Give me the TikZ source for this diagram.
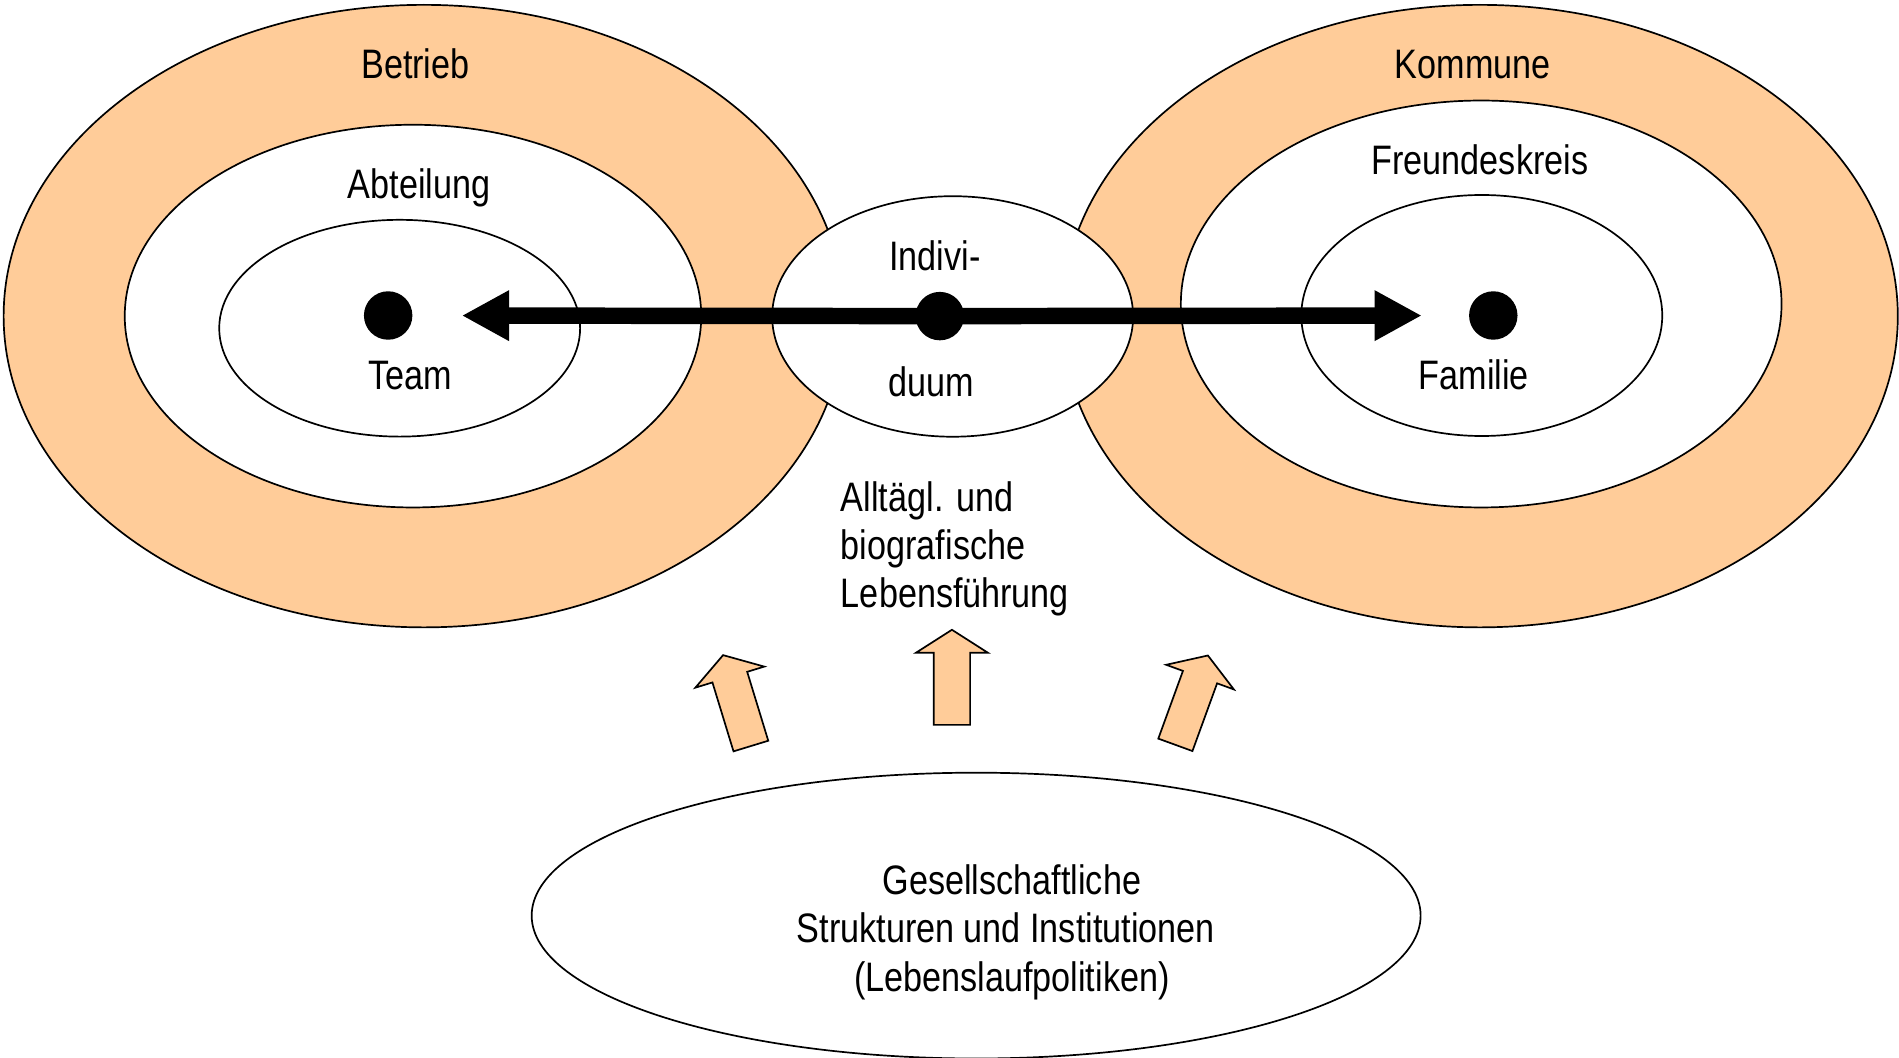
\documentclass[tikz,border=0pt]{standalone}
\usepackage{fontspec}
\setmainfont[FakeStretch=0.83]{Liberation Sans}
\usetikzlibrary{shapes.geometric,arrows.meta}
\definecolor{orangefill}{HTML}{FFCC99}
\begin{document}
\begin{tikzpicture}[x=0.5pt,y=-0.5pt,
  ring/.style={ellipse,draw=black,line width=0.7pt,inner sep=0pt,fill=#1},
  ring/.default=white,
  lbl/.style={anchor=base,inner sep=0pt,font=\fontsize{17pt}{20pt}\selectfont},
  lbll/.style={anchor=base west,inner sep=0pt,font=\fontsize{17pt}{20pt}\selectfont},
  dotnode/.style={circle,fill=black,inner sep=0pt,minimum size=20pt},
  bigline/.style={line width=6.8pt,-{Triangle[length=19.5pt,width=19.5pt]}},
  blockarrow/.style={draw=black,line width=0.7pt,fill=orangefill,line join=miter}]
\useasboundingbox (0,0) rectangle (1568,873);
% outer rings
\node[ring=orangefill,minimum width=347pt,minimum height=257pt] (betrieb) at (350,261) {};
\node[ring=orangefill,minimum width=345pt,minimum height=257pt] (kommune) at (1222,261) {};
% inner rings
\node[ring,minimum width=238pt,minimum height=158pt] (abteilung) at (341,261) {};
\node[ring,minimum width=149pt,minimum height=89.5pt] (team) at (330,271) {};
\node[ring,minimum width=248pt,minimum height=168pt] (freunde) at (1223,251) {};
\node[ring,minimum width=149pt,minimum height=99.5pt] (familie) at (1223.5,260.5) {};
\node[ring,minimum width=149pt,minimum height=99.3pt] (indiv) at (786.6,261.3) {};
% bottom ellipse
\node[ring,minimum width=367pt,minimum height=118pt] (gesell) at (806,756) {};
% dots
\node[dotnode] (teamdot) at (320.5,260.5) {};
\node[dotnode] (famdot) at (1233,260.5) {};
\node[dotnode] (indivdot) at (776,261) {};
% main arrows
\draw[bigline,shorten >=20.2pt] (indivdot.center) -- (teamdot);
\draw[bigline,shorten >=19.3pt] (indivdot.center) -- (famdot);
% block arrows
\draw[blockarrow,shift={(786,598.5)}] (-15,0) -- (-15,-59.5) -- (-29.75,-59.5) -- (0,-78.5) -- (29.75,-59.5) -- (15,-59.5) -- (15,0) -- cycle;
\draw[blockarrow,shift={(620,616)},rotate=17] (-15,0) -- (-15,-59.5) -- (-29.75,-59.5) -- (0,-78.5) -- (29.75,-59.5) -- (15,-59.5) -- (15,0) -- cycle;
\draw[blockarrow,shift={(970.5,615)},rotate=-20] (-15,0) -- (-15,-59.5) -- (-29.75,-59.5) -- (0,-78.5) -- (29.75,-59.5) -- (15,-59.5) -- (15,0) -- cycle;
% labels
\node[lbl] (tbetrieb) at (343,65) {Betrieb};
\node[lbl] (tabteil) at (346,164) {Abteilung};
\node[lbl] (tteam) at (339,322) {Team};
\node[lbl] (tkommune) at (1216,65) {Kommune};
\node[lbl] (tfreunde) at (1222,144) {Freundeskreis};
\node[lbl] (tfamilie) at (1217,322) {Familie};
\node[lbl] (tindiv1) at (772,223) {Indivi-};
\node[lbl] (tindiv2) at (769,327.5) {duum};
\node[lbll] (tall1) at (694,422) {Alltägl. und};
\node[lbll] (tall2) at (694,462) {biografische};
\node[lbll] (tall3) at (694,502) {Lebensführung};
\node[lbl] (tges1) at (835.5,738.5) {Gesellschaftliche};
\node[lbl] (tges2) at (830.5,778.5) {Strukturen und Institutionen};
\node[lbl] (tges3) at (835.5,818.5) {(Lebenslaufpolitiken)};
\end{tikzpicture}
\end{document}
